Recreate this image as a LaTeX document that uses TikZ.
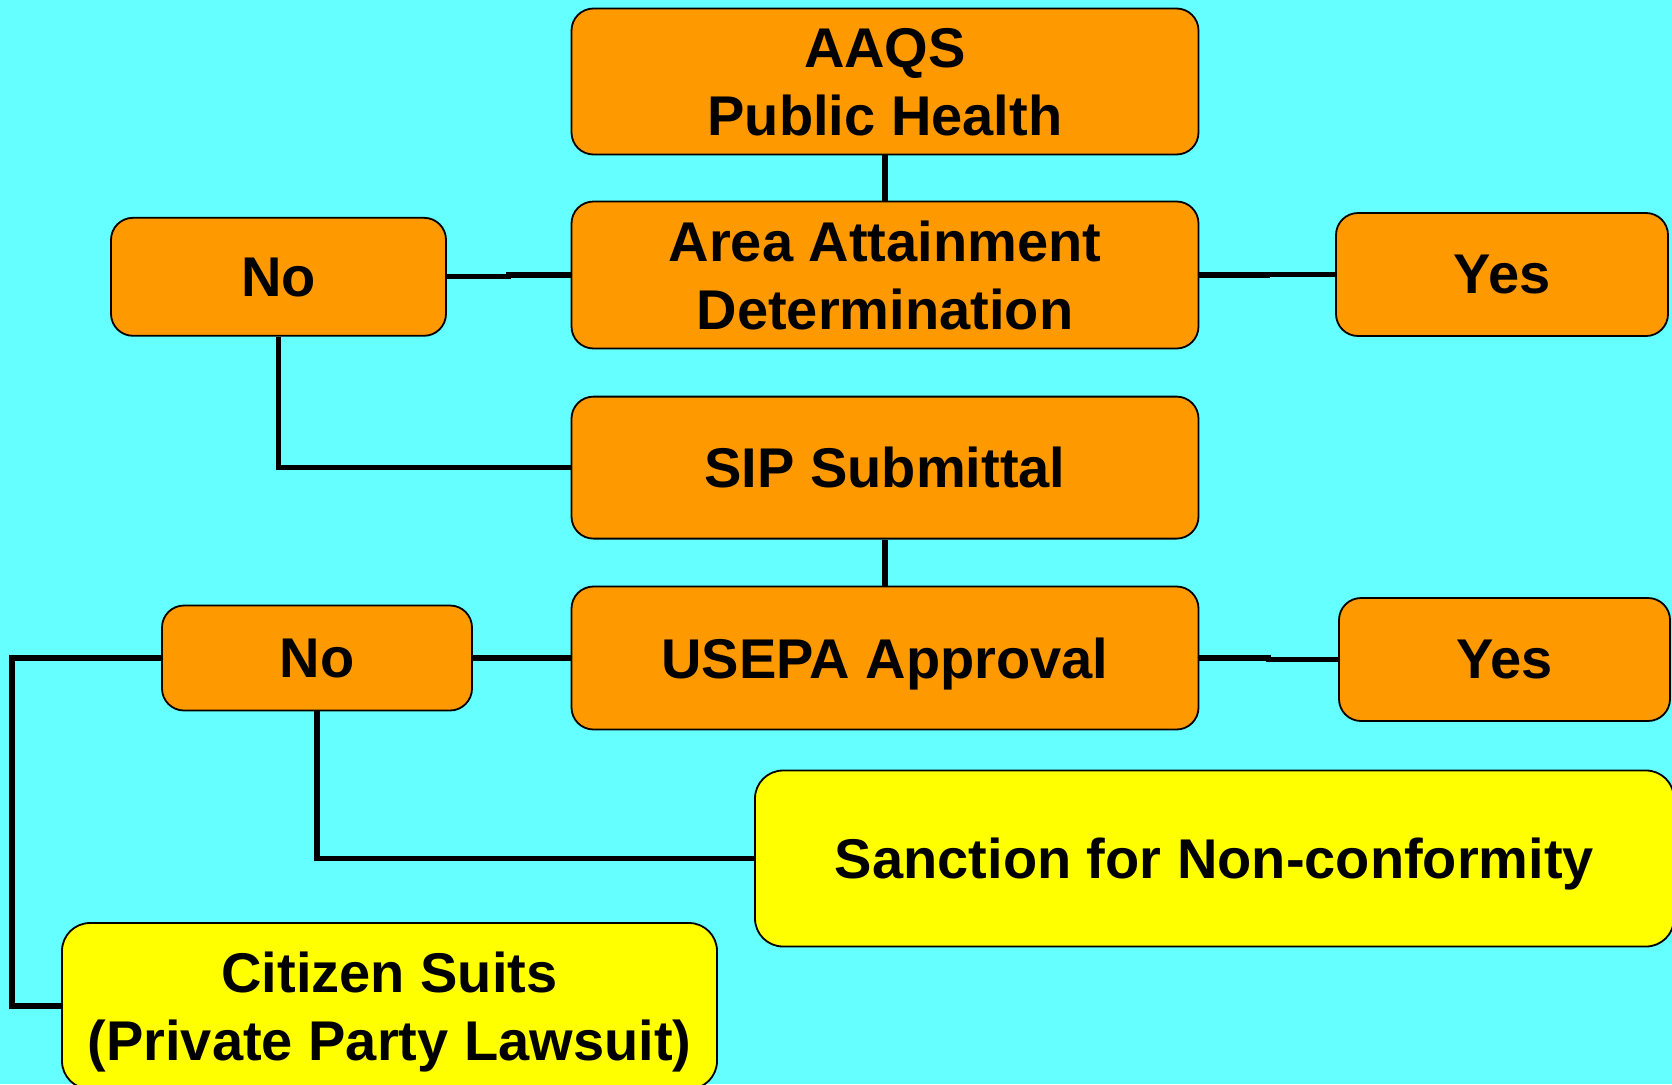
\documentclass[tikz,border=0pt]{standalone}
\usepackage{fontspec}
\setmainfont{Liberation Sans}
\usepackage{xcolor}
\definecolor{ceu}{RGB}{102, 255, 255}
\definecolor{laranja}{RGB}{255, 153, 0}
\definecolor{amarelo}{RGB}{255, 255, 0}
\usetikzlibrary{positioning, calc}

\begin{document}
\begin{tikzpicture}[x=1pt, y=-1pt,
		caixa/.style={draw, line width=1.8pt, rounded corners=22pt, fill=laranja, align=center,
			font=\fontsize{56}{68}\selectfont\bfseries, inner sep=0pt, text depth=-5pt},
		aviso/.style={caixa, fill=amarelo, rounded corners=28pt},
		fio/.style={line width=5.3pt}]
			\fill [ceu] (0,0) rectangle (1672,1084);
			\useasboundingbox (0,0) rectangle (1672,1084);
			
			\node [caixa, minimum width=627pt, minimum height=146pt] (aaqs) at (885,81.5) {AAQS\\Public Health};
			\node [caixa, minimum width=627pt, minimum height=147pt] (area) at (885,275) {Area Attainment\\Determination};
			\node [caixa, minimum width=335pt, minimum height=118pt] (no1) at (278.5,276.8) {No};
			\node [caixa, minimum width=332pt, minimum height=123pt] (yes1) at (1502,274.5) {Yes};
			\node [caixa, minimum width=627pt, minimum height=142pt] (sip) at (885,467.6) {SIP Submittal};
			\node [caixa, minimum width=627pt, minimum height=143pt] (usepa) at (885,658) {USEPA Approval};
			\node [caixa, minimum width=310pt, minimum height=105pt] (no2) at (317,658) {No};
			\node [caixa, minimum width=331pt, minimum height=123pt] (yes2) at (1504.5,659.5) {Yes};
			\node [aviso, minimum width=919pt, minimum height=176pt] (sancao) at (1214.5,858.5) {Sanction for Non-conformity};
			\node [aviso, minimum width=655pt, minimum height=166pt] (cidadao) at (389.5,1006) {Citizen Suits\\(Private Party Lawsuit)};
			
			\draw [fio] (aaqs.south) -- (area.north);
			\draw [fio] (no1.east) -| ($(no1.east)!0.5!(area.west)$) |- (area.west);
			\draw [fio] (area.east) -| ($(area.east)!0.5!(yes1.west)$) |- (yes1.west);
			\draw [fio] (no1.south) |- (sip.west);
			\draw [fio] (sip.south) -- (usepa.north);
			\draw [fio] (no2.east) -- (usepa.west);
			\draw [fio] (usepa.east) -| ($(usepa.east)!0.5!(yes2.west)$) |- (yes2.west);
			\draw [fio] (no2.south) |- (sancao.west);
			\draw [fio] (no2.west) -- ++(-149,0) |- (cidadao.west);
		\end{tikzpicture}
\end{document}
